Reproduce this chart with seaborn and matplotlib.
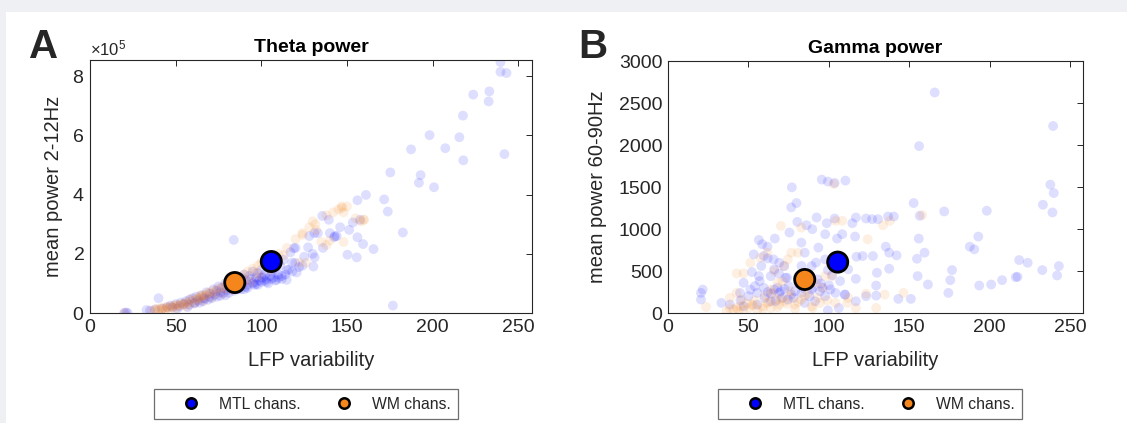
import numpy as np
import pandas as pd
import matplotlib
matplotlib.use("Agg")
import matplotlib.pyplot as plt
import seaborn as sns
from matplotlib.lines import Line2D
from matplotlib.patches import Rectangle
from matplotlib.ticker import ScalarFormatter, MultipleLocator

# ---------------- data ----------------
group_names = ["MTL chans.", "WM chans."]
group_colors = ["#0000ff", "#f5861c"]

# Panel A: Theta power (mean power 2-12Hz)
theta_mtl_x = [239.6, 239.6, 243.1, 223.7, 233.1, 232.7, 217.7, 215.6, 217.9, 241.9,
               207.4, 198.2, 187.4, 193.0, 192.0, 200.8, 175.3, 171.7, 173.8, 161.1,
               156.1, 182.6, 176.8, 165.5, 159.4, 156.1, 155.7, 150.3, 151.3, 153.4,
               157.6, 142.5, 139.4, 135.6, 131.1, 130.4, 127.3, 119.8, 119.0, 116.0,
               120.6, 114.8, 83.9, 131.0, 144.0,
               20, 22, 21, 33, 35, 38, 40, 42, 45, 47, 48, 50, 52, 53, 55, 56, 58, 58,
               60, 61, 62, 63, 65, 66, 67, 68, 70, 70, 72, 73, 74, 75, 76, 77, 78, 79,
               80, 81, 82, 83, 84, 85, 86, 87, 88, 89, 90, 91, 92, 93, 94, 95, 96, 97,
               98, 99, 100, 101, 102, 103, 104, 105, 106, 107, 108, 110, 111, 112, 113,
               115, 117, 118, 120, 122, 125, 128, 130, 133, 136, 140, 143, 146,
               95, 98, 100, 102, 104, 106, 108, 110, 112, 100, 92, 88,
               64, 69, 74, 79, 84, 90, 96, 57, 51,
               71, 76, 81, 86, 91, 97, 103, 109, 114, 118, 124, 66, 61]
theta_mtl_y = [8.48e5, 8.15e5, 8.11e5, 7.38e5, 7.49e5, 7.15e5, 6.67e5, 5.94e5, 5.16e5, 5.37e5,
               5.57e5, 6.01e5, 5.53e5, 4.66e5, 4.40e5, 4.25e5, 4.75e5, 3.84e5, 3.43e5, 3.99e5,
               3.81e5, 2.72e5, 0.25e5, 2.16e5, 2.33e5, 2.56e5, 1.88e5, 1.97e5, 2.81e5, 3.06e5,
               3.15e5, 2.56e5, 3.15e5, 3.28e5, 1.88e5, 1.57e5, 2.22e5, 1.69e5, 2.19e5, 1.46e5,
               1.37e5, 1.12e5, 2.47e5, 2.70e5, 2.60e5,
               0.0, 0.0, 0.02e5, 0.10e5, 0.08e5, 0.12e5, 0.50e5, 0.15e5, 0.20e5, 0.25e5, 0.18e5,
               0.30e5, 0.22e5, 0.35e5, 0.30e5, 0.40e5, 0.28e5, 0.45e5,
               0.50e5, 0.35e5, 0.55e5, 0.42e5, 0.60e5, 0.50e5, 0.48e5, 0.70e5, 0.65e5, 0.55e5,
               0.80e5, 0.62e5, 0.75e5, 0.90e5, 0.70e5, 0.85e5, 0.68e5, 1.00e5,
               0.78e5, 0.90e5, 1.10e5, 0.85e5, 0.95e5, 1.15e5, 0.90e5, 1.05e5, 1.20e5, 1.00e5,
               1.30e5, 1.10e5, 0.95e5, 1.25e5, 1.15e5, 1.40e5, 1.05e5, 1.20e5,
               1.35e5, 1.10e5, 1.45e5, 1.20e5, 1.30e5, 1.15e5, 1.60e5, 1.25e5, 1.40e5, 1.20e5,
               1.50e5, 1.30e5, 1.60e5, 1.25e5, 1.80e5,
               1.45e5, 2.05e5, 1.70e5, 2.20e5, 1.55e5, 1.90e5, 2.60e5, 2.00e5, 2.70e5, 2.20e5,
               2.70e5, 2.60e5, 2.90e5,
               1.00e5, 0.95e5, 1.05e5, 1.10e5, 1.00e5, 1.15e5, 1.10e5, 1.20e5, 1.15e5, 1.20e5,
               0.85e5, 0.80e5,
               0.35e5, 0.45e5, 0.55e5, 0.60e5, 0.75e5, 0.80e5, 0.95e5, 0.20e5, 0.15e5,
               0.50e5, 0.58e5, 0.68e5, 0.80e5, 0.88e5, 0.98e5, 1.05e5, 1.12e5, 1.30e5, 1.40e5,
               1.60e5, 0.40e5, 0.33e5]

theta_wm_x = [20, 36, 38, 39, 40, 41, 42, 43, 44, 45, 46, 47, 48, 49, 50, 51, 52, 53, 54,
              55, 56, 57, 58, 60, 62, 63, 64, 65, 66, 67, 68, 70, 72, 74, 76, 78, 80, 82,
              84, 86, 88, 90, 92, 95, 98, 100, 103, 106, 110, 115, 120, 124, 126, 128, 130,
              132, 135, 138, 140, 142, 145, 147, 148, 150, 148, 155, 158, 160, 147, 138,
              159.6, 124, 122, 131.5,
              44, 50, 56, 61, 66, 71, 77, 83, 89, 94, 99, 105,
              59, 64, 69, 73, 79, 85, 91, 97, 108, 113]
theta_wm_y = [0.0, 0.08e5, 0.10e5, 0.14e5, 0.10e5, 0.16e5, 0.12e5, 0.18e5, 0.14e5, 0.20e5,
              0.17e5, 0.22e5, 0.20e5, 0.25e5, 0.23e5, 0.28e5, 0.26e5, 0.30e5, 0.28e5,
              0.32e5, 0.35e5, 0.30e5, 0.38e5, 0.42e5, 0.45e5, 0.50e5, 0.48e5, 0.55e5, 0.60e5,
              0.58e5, 0.62e5, 0.70e5, 0.75e5, 0.80e5, 0.85e5, 0.90e5, 1.00e5, 1.05e5,
              1.10e5, 1.20e5, 1.15e5, 1.30e5, 1.40e5, 1.50e5, 1.60e5, 1.70e5, 1.80e5, 1.90e5,
              2.00e5, 2.20e5, 2.50e5, 2.70e5, 1.70e5, 2.90e5, 3.10e5,
              2.80e5, 2.40e5, 3.30e5, 2.45e5, 3.40e5, 3.50e5, 3.55e5, 3.40e5, 3.60e5, 2.40e5,
              3.20e5, 3.10e5, 3.15e5, 3.60e5, 2.30e5, 3.15e5, 2.64e5, 1.70e5, 3.00e5,
              0.08e5, 0.15e5, 0.22e5, 0.32e5, 0.40e5, 0.52e5, 0.65e5, 0.78e5, 0.95e5, 1.05e5,
              1.25e5, 1.45e5,
              0.48e5, 0.58e5, 0.68e5, 0.66e5, 0.82e5, 0.92e5, 1.12e5, 1.35e5, 1.75e5, 1.95e5]

# Panel B: Gamma power (mean power 60-90Hz)
gamma_mtl_x = [165.8, 156.1, 239.4, 237.7, 239.8, 233.1, 239.0, 198.2, 171.7, 152.7,
               156.5, 155.9, 192.9, 187.6, 190.4, 159.5, 154.8, 218.3, 223.6, 176.6,
               175.5, 161.6, 174.3, 193.5, 200.9, 207.7, 216.2, 217.3, 232.7, 243.0,
               241.9, 155.2, 142.1, 135.4, 137.5, 143.2, 151.0, 137.5, 129.4, 129.4,
               129.9, 116.8, 110.0, 117.2, 121.0, 127.4, 123.1, 126.9, 130.5, 136.8,
               140.4, 116.8, 114.6, 110.3, 103.6, 99.4, 95.6, 92.4, 98.7, 103.6,
               89.7, 86.1, 80.4, 79.9, 76.6, 77.0, 75.5, 66.4, 61.8, 58.6,
               56.5, 53.3, 59.6, 65.6, 69.2, 72.3, 82.9, 85.0, 93.5, 97.7,
               89.3, 99.4, 87.6, 80.8, 63.9, 56.5, 52.2, 47.0, 44.8, 51.2,
               55.4, 59.6, 66.0, 69.2, 72.3, 76.6, 82.9, 89.3, 94.5, 97.7,
               104.1, 110.0, 91.4, 85.0, 74.5, 63.9, 55.4, 47.0, 38.5, 33.2,
               20.5, 20.5, 21.6, 106.2, 99.4, 116.8, 123.1, 116.3, 105.1, 108.3, 97.7,
               60.0, 64.0, 68.0, 71.0, 75.0, 79.0, 86.0, 90.0, 95.0, 101.0, 58.0, 66.0,
               73.0, 83.0, 92.0, 100.0, 112.0,
               50.0, 54.0, 62.0, 67.0, 70.0, 78.0, 81.0, 88.0, 93.0, 96.0, 102.0, 107.0,
               62.0, 69.0, 74.0, 84.0, 57.0, 45.0]
gamma_mtl_y = [2625, 1987, 2226, 1528, 1428, 1289, 1197, 1217, 1209, 1309,
               1157, 886, 910, 790, 758, 718, 646, 630, 598, 511,
               391, 339, 239, 327, 339, 391, 427, 431, 511, 559,
               447, 439, 686, 790, 718, 168, 168, 527, 327, 207,
               479, 407, 219, 670, 678, 678, 1125, 1117, 1117, 1149,
               1149, 1137, 1069, 1576, 1548, 1564, 1588, 1137, 1069, 1125,
               998, 1045, 1085, 1309, 1257, 1496, 958, 886, 790, 818,
               870, 698, 678, 638, 598, 559, 838, 718, 778, 638,
               559, 511, 439, 431, 439, 439, 487, 359, 239, 279,
               239, 299, 279, 239, 287, 219, 239, 279, 259, 200,
               239, 219, 140, 120, 160, 140, 100, 80, 100, 120,
               239, 160, 279, 60, 32, 140, 200, 910, 886, 938, 938,
               180, 230, 300, 180, 320, 260, 330, 300, 350, 280, 560, 520,
               420, 560, 600, 330, 520,
               200, 320, 250, 140, 260, 180, 350, 200, 400, 300, 450, 380,
               650, 470, 420, 300, 380, 150]

gamma_wm_x = [36.4, 38.5, 40.6, 42.7, 44.8, 47.0, 50.1, 52.2, 55.4, 58.6,
              61.8, 63.9, 67.0, 69.2, 72.3, 75.5, 78.7, 82.9, 85.0, 89.3,
              94.5, 104.1, 38.5, 42.7, 45.9, 42.7, 47.0, 63.9, 68.1, 71.3,
              74.5, 76.6, 80.8, 85.0, 91.4, 97.7, 101.9, 104.1, 108.3, 103.0,
              70.2, 82.9, 124.1, 133.7, 137.9, 158.0, 134.7, 146.4, 123.1, 116.8,
              129.4, 111.5, 23.7, 51.2, 57.5, 61.8,
              49.0, 54.0, 60.0, 65.0, 70.0, 76.0, 81.0, 87.0, 93.0, 99.0, 66.0, 72.0,
              44.0, 53.0, 59.0, 63.0, 68.0, 74.0, 79.0, 90.0, 96.0, 112.0]
gamma_wm_y = [20, 60, 40, 60, 80, 40, 60, 100, 40, 80,
              120, 60, 160, 100, 140, 200, 100, 160, 200, 80,
              120, 120, 180, 239, 160, 471, 471, 279, 359, 379,
              638, 718, 718, 359, 359, 439, 439, 1097, 1097, 1536,
              1037, 1017, 878, 1045, 1097, 1165, 219, 239, 231, 60,
              60, 120, 72, 598, 658, 718,
              110, 150, 200, 240, 170, 260, 130, 230, 180, 150, 500, 560,
              30, 90, 50, 130, 70, 110, 50, 60, 300, 180]

# group means (large markers)
theta_mean_x = [105.8, 84.5]
theta_mean_y = [1.74e5, 1.03e5]
gamma_mean_x = [105.5, 85.0]
gamma_mean_y = [606, 399]

panel_titles = ["Theta power", "Gamma power"]
panel_ylabels = ["mean power 2-12Hz", "mean power 60-90Hz"]
panel_letters = ["A", "B"]

# ---------------- style ----------------
sns.set_style("white")
plt.rcParams["font.family"] = ["Liberation Sans", "DejaVu Sans"]
plt.rcParams["mathtext.fontset"] = "custom"
plt.rcParams["mathtext.rm"] = "Liberation Sans"
plt.rcParams["mathtext.it"] = "Liberation Sans:italic"
dark = "#262626"

W, H = 1127, 423
fig = plt.figure(figsize=(W / 100, H / 100), dpi=100, facecolor="#eef0f3")
fig.patches.append(Rectangle((6 / W, 0), 1 - 6 / W, 1 - 12 / H, transform=fig.transFigure,
                             facecolor="white", edgecolor="none", zorder=-10))


def px_axes(l, r, t, b):
    return fig.add_axes([l / W, 1 - b / H, (r - l) / W, (b - t) / H])


axA = px_axes(90, 532, 60, 313)
axB = px_axes(668, 1083, 61, 313)

panels = [
    (axA, theta_mtl_x, theta_mtl_y, theta_wm_x, theta_wm_y, theta_mean_x, theta_mean_y, 8.55e5, 2e5),
    (axB, gamma_mtl_x, gamma_mtl_y, gamma_wm_x, gamma_wm_y, gamma_mean_x, gamma_mean_y, 3000, 500),
]

for i, (ax, mx, my, wx, wy, meanx, meany, ytop, ystep) in enumerate(panels):
    ax.set_facecolor("white")
    df = pd.concat([
        pd.DataFrame({"x": mx, "y": my, "group": group_names[0]}),
        pd.DataFrame({"x": wx, "y": wy, "group": group_names[1]}),
    ], ignore_index=True)
    for g, c in zip(group_names, group_colors):
        sns.scatterplot(data=df[df.group == g], x="x", y="y", color=c, alpha=0.13,
                        s=50, edgecolor="none", linewidth=0, ax=ax, legend=False)
    dmean = pd.DataFrame({"x": meanx, "y": meany, "group": group_names})
    sns.scatterplot(data=dmean, x="x", y="y", hue="group", palette=group_colors,
                    s=210, edgecolor="black", linewidth=2.0, ax=ax, legend=False, zorder=5)

    ax.set_xlim(0, 258)
    ax.set_ylim(0, ytop)
    ax.xaxis.set_major_locator(MultipleLocator(50))
    ax.yaxis.set_major_locator(MultipleLocator(ystep))
    ax.tick_params(direction="in", top=True, right=True, length=4, width=0.7,
                   colors=dark, labelsize=14, pad=4)
    for sp in ax.spines.values():
        sp.set_color(dark)
        sp.set_linewidth(0.8)
    ax.set_xlabel("LFP variability", fontsize=14.5, color=dark)
    ax.set_ylabel(panel_ylabels[i], fontsize=14.5, color=dark)
    ax.set_title(panel_titles[i], fontsize=14, fontweight="bold", color="black", pad=6)
    ax.xaxis.set_label_coords(0.5, -0.15)

axA.yaxis.set_label_coords(-0.061, 0.5)
axB.yaxis.set_label_coords(-0.147, 0.5)

fmt = ScalarFormatter(useMathText=True)
fmt.set_powerlimits((0, 0))
axA.yaxis.set_major_formatter(fmt)
axA.yaxis.get_offset_text().set_fontsize(12)
axA.yaxis.get_offset_text().set_color(dark)

fig.text(29 / W, 1 - 58 / H, panel_letters[0], fontsize=29, fontweight="bold", va="baseline")
fig.text(578 / W, 1 - 58 / H, panel_letters[1], fontsize=29, fontweight="bold", va="baseline")

handles = [Line2D([], [], linestyle="none", marker="o", markersize=7.5, markerfacecolor=c,
                  markeredgecolor="black", markeredgewidth=1.8) for c in group_colors]
for cx in [306, 870]:
    leg = fig.legend(handles, group_names, loc="center", bbox_to_anchor=(cx / W, 1 - 404 / H),
                     ncol=2, frameon=True, fancybox=False, framealpha=1, edgecolor="#6e6e6e",
                     fontsize=11.3, handletextpad=-0.15, columnspacing=0.9, borderpad=0.45,
                     handlelength=3.8, labelcolor=dark)
    leg.get_frame().set_linewidth(0.9)

fig.savefig("out.png", dpi=100, facecolor=fig.get_facecolor())
